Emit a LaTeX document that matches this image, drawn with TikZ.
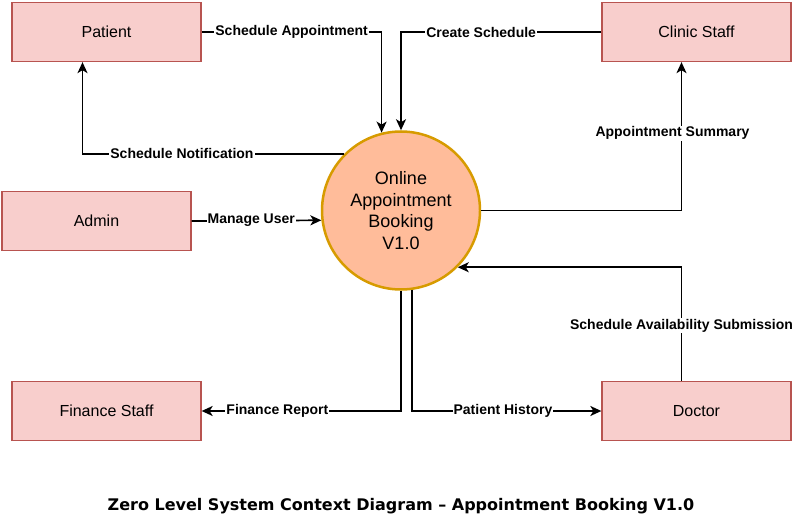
\documentclass[tikz,border=0pt]{standalone}
\usepackage{fontspec}
\setmainfont{Liberation Sans}
\newfontfamily\titlefont{DejaVu Sans}
\usetikzlibrary{arrows.meta}
\definecolor{boxfill}{HTML}{F8CECC}
\definecolor{boxline}{HTML}{B85450}
\definecolor{sysfill}{HTML}{FFBC9A}
\definecolor{sysline}{HTML}{D79B00}

\begin{document}
\begin{tikzpicture}[x=1pt, y=-1pt,
	entity/.style={draw=boxline, fill=boxfill, line width=1.3pt, minimum width=189pt,
	minimum height=59pt, font=\fontsize{16}{19}\selectfont},
	process/.style={circle, draw=sysline, fill=sysfill, line width=2.5pt, minimum size=158pt,
	align=center, font=\fontsize{18}{21.7}\selectfont},
	flow/.style={line width=1.7pt, -{Stealth[length=11pt,width=10pt,inset=3pt]}},
	lbl/.style={fill=white, inner sep=1pt, font=\bfseries\fontsize{14}{16}\selectfont}]
\useasboundingbox (0,0) rectangle (792,521);
\node[entity] (pat) at (106.5,32) {Patient};
\node[entity] (clin) at (696.5,32) {Clinic Staff};
\node[entity] (adm) at (96.5,221) {Admin};
\node[entity] (fin) at (106.5,411) {Finance Staff};
\node[entity] (doc) at (696.5,411) {Doctor};
\node[process] (sys) at (401,210.5) {Online\\Appointment\\Booking\\V1.0};
% connector ends off the box centres
\coordinate (patin) at ([xshift=-24pt]pat.south);
\coordinate (clinin) at ([xshift=-15pt]clin.south);
\coordinate (docout) at ([xshift=-15pt]doc.north);
\draw[flow] (pat.east) -| node[lbl, pos=0.25] {Schedule Appointment} (sys.104.5);
\draw[flow] (clin.west) -| node[lbl, pos=0.3] {Create Schedule} (sys.north);
\draw[flow] (sys.135.6) -| node[lbl, pos=0.31] {Schedule Notification} (patin);
\draw[flow] (sys.east) -| node[lbl, pos=0.76, xshift=-9pt] {Appointment Summary} (clinin);
\draw[flow] (adm.east) -- node[lbl, pos=0.46] {Manage User} (sys.187.5);
\draw[flow] (docout) |- node[lbl, pos=0.243] {Schedule Availability Submission} (sys.-45);
\draw[flow] (sys.south) |- node[lbl, pos=0.81] {Finance Report} (fin.east);
\draw[flow] (sys.-82.8) |- node[lbl, pos=0.74] {Patient History} (doc.west);
\node[font=\titlefont\bfseries\fontsize{16}{19}\selectfont] (title) at (401,506.5)
	{Zero Level System Context Diagram – Appointment Booking V1.0};
\end{tikzpicture}
\end{document}
